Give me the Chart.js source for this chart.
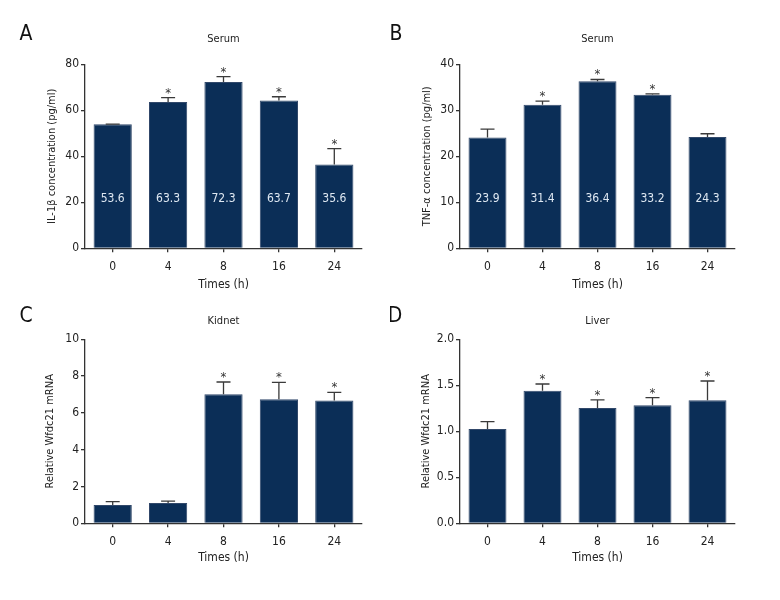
<!DOCTYPE html>
<html>
<head>
<meta charset="utf-8">
<script src="https://cdn.jsdelivr.net/npm/chart.js@4.4.1/dist/chart.umd.min.js"></script>
<style>
  html, body { margin: 0; padding: 0; background: #ffffff; }
  #wrap { position: relative; width: 780px; height: 600px; }
  .panel { position: absolute; width: 390px; height: 300px; }
</style>
</head>
<body>
<div id="wrap">
  <div class="panel" style="left:0;top:0"><canvas id="cA" width="390" height="300"></canvas></div>
  <div class="panel" style="left:390px;top:0"><canvas id="cB" width="390" height="300"></canvas></div>
  <div class="panel" style="left:0;top:300px"><canvas id="cC" width="390" height="300"></canvas></div>
  <div class="panel" style="left:390px;top:300px"><canvas id="cD" width="390" height="300"></canvas></div>
</div>
<script>
// ---------- data ----------
const categories = ['0', '4', '8', '16', '24'];

const il1bMean   = [53.9, 63.6, 72.3, 64.3, 36.4];
const il1bSD     = [0.1, 1.9, 2.3, 1.6, 6.9];
const il1bLabels = ['53.6', '63.3', '72.3', '63.7', '35.6'];
const il1bSig    = [false, true, true, true, true];
const il1bTicks  = [0, 20, 40, 60, 80];

const tnfMean    = [24.1, 31.2, 36.3, 33.4, 24.2];
const tnfSD      = [1.8, 0.8, 0.4, 0.15, 0.7];
const tnfLabels  = ['23.9', '31.4', '36.4', '33.2', '24.3'];
const tnfSig     = [false, true, true, true, false];
const tnfTicks   = [0, 10, 20, 30, 40];

const kidneyMean = [1.0, 1.1, 7.01, 6.74, 6.68];
const kidneySD   = [0.18, 0.1, 0.67, 0.92, 0.44];
const kidneySig  = [false, false, true, true, true];
const kidneyTicks = [0, 2, 4, 6, 8, 10];

const liverMean  = [1.025, 1.442, 1.254, 1.283, 1.337];
const liverSD    = [0.08, 0.072, 0.087, 0.083, 0.21];
const liverSig   = [false, true, true, true, true];
const liverTicks = [0, 0.5, 1.0, 1.5, 2.0];

// ---------- style ----------
const FONT = "'Liberation Sans Narrow', 'DejaVu Sans Condensed', 'Roboto Condensed', Arial, sans-serif";
const BAR = '#0b2e57';
const AXIS = '#333333';
const TXT = '#222222';

const panelPlugin = {
  id: 'panelDecor',
  afterDatasetsDraw(chart, args, o) {
    const ctx = chart.ctx;
    const meta = chart.getDatasetMeta(0);
    const ys = chart.scales.y;
    const ca = chart.chartArea;
    ctx.save();
    meta.data.forEach((bar, i) => {
      const v = o.mean[i], sd = o.sd[i];
      const yTop = ys.getPixelForValue(v);
      const yErr = ys.getPixelForValue(v + sd);
      ctx.strokeStyle = '#3a3a3a';
      ctx.lineWidth = 1.3;
      ctx.beginPath();
      ctx.moveTo(bar.x, yTop);
      ctx.lineTo(bar.x, yErr);
      ctx.moveTo(bar.x - 7, yErr);
      ctx.lineTo(bar.x + 7, yErr);
      ctx.stroke();
      if (o.sig[i]) {
        ctx.fillStyle = '#333';
        ctx.font = '13px ' + FONT;
        ctx.textAlign = 'center';
        ctx.textBaseline = 'alphabetic';
        ctx.fillText('*', bar.x, yErr - 1);
      }
      if (o.labels) {
        ctx.fillStyle = '#dfe8f2';
        ctx.font = '12px ' + FONT;
        ctx.textAlign = 'center';
        ctx.textBaseline = 'middle';
        ctx.fillText(o.labels[i], bar.x, ca.bottom - (ca.bottom - ca.top) * 0.27);
      }
    });
    ctx.fillStyle = TXT;
    ctx.font = '11px ' + FONT;
    ctx.textAlign = 'center';
    ctx.textBaseline = 'middle';
    ctx.fillText(o.title, (ca.left + ca.right) / 2, o.titleY);
    ctx.font = '21px ' + FONT;
    ctx.fillStyle = '#111';
    ctx.fillText(o.letter, o.letterX, o.letterY);
    ctx.restore();
  }
};

function makePanel(id, cfg) {
  const padL = cfg.yTitleX - 6.6;
  new Chart(document.getElementById(id), {
    type: 'bar',
    data: {
      labels: categories,
      datasets: [{
        data: cfg.mean,
        backgroundColor: BAR,
        borderColor: '#31486a',
        borderWidth: 1,
        barPercentage: 0.69,
        categoryPercentage: 1.0
      }]
    },
    options: {
      responsive: false,
      animation: false,
      devicePixelRatio: 1,
      layout: { padding: { left: padL, right: 390 - cfg.right, top: cfg.top, bottom: cfg.padBottom } },
      plugins: {
        legend: { display: false },
        tooltip: { enabled: false },
        panelDecor: {
          mean: cfg.mean, sd: cfg.sd, sig: cfg.sig, labels: cfg.labels,
          title: cfg.title, titleY: cfg.titleY,
          letter: cfg.letter, letterX: cfg.letterX, letterY: cfg.letterY
        }
      },
      scales: {
        x: {
          offset: true,
          grid: { offset: false, drawOnChartArea: false, drawTicks: true, tickLength: 4, color: AXIS, lineWidth: 1.3 },
          border: { display: true, color: AXIS, width: 1.3 },
          ticks: { color: TXT, font: { family: FONT, size: 12 }, padding: 7 },
          title: { display: true, text: 'Times (h)', color: TXT, font: { family: FONT, size: 12 }, padding: { top: 0, bottom: 8 } },
          afterFit(s) { s.height = cfg.bottomBox; }
        },
        y: {
          min: cfg.ticks[0],
          max: cfg.ticks[cfg.ticks.length - 1],
          afterBuildTicks(s) { s.ticks = cfg.ticks.map(v => ({ value: v })); },
          grid: { drawOnChartArea: false, drawTicks: true, tickLength: 4, color: AXIS, lineWidth: 1.3 },
          border: { display: true, color: AXIS, width: 1.3 },
          ticks: {
            color: TXT, font: { family: FONT, size: 12 }, padding: 2,
            callback: (v) => cfg.decimals ? Number(v).toFixed(cfg.decimals) : String(v)
          },
          title: { display: true, text: cfg.yTitle, color: TXT, font: { family: FONT, size: 11 }, padding: { top: 0, bottom: 0 } },
          afterFit(s) { s.width = cfg.left - padL; }
        }
      }
    },
    plugins: [panelPlugin]
  });
}

makePanel('cA', {
  mean: il1bMean, sd: il1bSD, sig: il1bSig, labels: il1bLabels, ticks: il1bTicks,
  yTitle: 'IL-1β concentration (pg/ml)', title: 'Serum', letter: 'A',
  left: 85, right: 362, top: 64.3, padBottom: 0, bottomBox: 51.7, yTitleX: 51.7,
  titleY: 39.5, letterX: 26, letterY: 35
});
makePanel('cB', {
  mean: tnfMean, sd: tnfSD, sig: tnfSig, labels: tnfLabels, ticks: tnfTicks,
  yTitle: 'TNF-α concentration (pg/ml)', title: 'Serum', letter: 'B',
  left: 70, right: 345, top: 64.3, padBottom: 0, bottomBox: 51.7, yTitleX: 36.7,
  titleY: 39.5, letterX: 6, letterY: 35
});
makePanel('cC', {
  mean: kidneyMean, sd: kidneySD, sig: kidneySig, labels: null, ticks: kidneyTicks,
  yTitle: 'Relative Wfdc21 mRNA', title: 'Kidnet', letter: 'C',
  left: 85, right: 362, top: 39.3, padBottom: 27, bottomBox: 49.7, yTitleX: 50,
  titleY: 21, letterX: 26, letterY: 17
});
makePanel('cD', {
  mean: liverMean, sd: liverSD, sig: liverSig, labels: null, ticks: liverTicks, decimals: 1,
  yTitle: 'Relative Wfdc21 mRNA', title: 'Liver', letter: 'D',
  left: 70, right: 345, top: 39.3, padBottom: 27, bottomBox: 49.7, yTitleX: 36,
  titleY: 21, letterX: 5, letterY: 17
});
</script>
</body>
</html>
